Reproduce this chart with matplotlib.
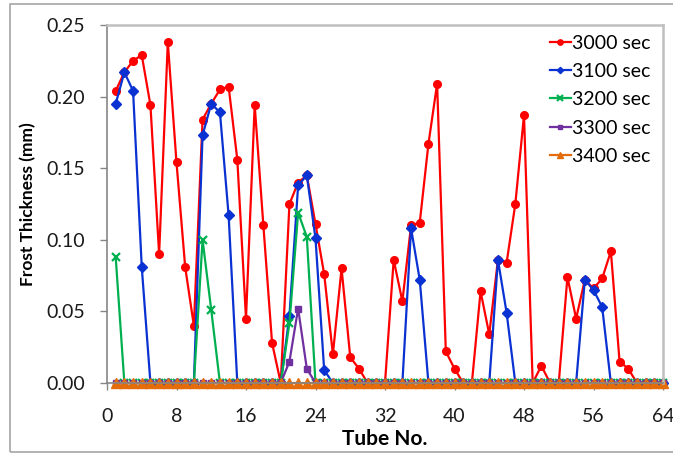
import matplotlib
matplotlib.use("Agg")
import matplotlib.pyplot as plt
from matplotlib.patches import Rectangle


# Tube numbers and frost thickness (mm)
tubes = list(range(1, 65))

t3000 = [0.204, 0.217, 0.225, 0.229, 0.194, 0.090, 0.238, 0.154,
         0.081, 0.040, 0.184, 0.195, 0.205, 0.207, 0.156, 0.045,
         0.194, 0.110, 0.028, 0.000, 0.125, 0.140, 0.145, 0.111,
         0.076, 0.020, 0.080, 0.018, 0.010, 0.000, 0.000, 0.000,
         0.086, 0.057, 0.110, 0.112, 0.167, 0.209, 0.022, 0.010,
         0.000, 0.000, 0.064, 0.034, 0.086, 0.084, 0.125, 0.187,
         0.000, 0.012, 0.000, 0.000, 0.074, 0.045, 0.072, 0.066,
         0.073, 0.092, 0.015, 0.010, 0.000, 0.000, 0.000, 0.000]

t3100 = [0.195, 0.217, 0.204, 0.081, 0.000, 0.000, 0.000, 0.000,
         0.000, 0.000, 0.173, 0.195, 0.189, 0.117, 0.000, 0.000,
         0.000, 0.000, 0.000, 0.000, 0.047, 0.138, 0.145, 0.101,
         0.009, 0.000, 0.000, 0.000, 0.000, 0.000, 0.000, 0.000,
         0.000, 0.000, 0.108, 0.072, 0.000, 0.000, 0.000, 0.000,
         0.000, 0.000, 0.000, 0.000, 0.086, 0.049, 0.000, 0.000,
         0.000, 0.000, 0.000, 0.000, 0.000, 0.000, 0.072, 0.065,
         0.053, 0.000, 0.000, 0.000, 0.000, 0.000, 0.000, 0.000]

t3200 = [0.088, 0.000, 0.000, 0.000, 0.000, 0.000, 0.000, 0.000,
         0.000, 0.000, 0.100, 0.051, 0.000, 0.000, 0.000, 0.000,
         0.000, 0.000, 0.000, 0.000, 0.042, 0.119, 0.102, 0.000,
         0.000, 0.000, 0.000, 0.000, 0.000, 0.000, 0.000, 0.000,
         0.000, 0.000, 0.000, 0.000, 0.000, 0.000, 0.000, 0.000,
         0.000, 0.000, 0.000, 0.000, 0.000, 0.000, 0.000, 0.000,
         0.000, 0.000, 0.000, 0.000, 0.000, 0.000, 0.000, 0.000,
         0.000, 0.000, 0.000, 0.000, 0.000, 0.000, 0.000, 0.000]

t3300 = [0.000, 0.000, 0.000, 0.000, 0.000, 0.000, 0.000, 0.000,
         0.000, 0.000, 0.000, 0.000, 0.000, 0.000, 0.000, 0.000,
         0.000, 0.000, 0.000, 0.000, 0.015, 0.052, 0.010, 0.000,
         0.000, 0.000, 0.000, 0.000, 0.000, 0.000, 0.000, 0.000,
         0.000, 0.000, 0.000, 0.000, 0.000, 0.000, 0.000, 0.000,
         0.000, 0.000, 0.000, 0.000, 0.000, 0.000, 0.000, 0.000,
         0.000, 0.000, 0.000, 0.000, 0.000, 0.000, 0.000, 0.000,
         0.000, 0.000, 0.000, 0.000, 0.000, 0.000, 0.000, 0.000]

t3400 = [0.000, 0.000, 0.000, 0.000, 0.000, 0.000, 0.000, 0.000,
         0.000, 0.000, 0.000, 0.000, 0.000, 0.000, 0.000, 0.000,
         0.000, 0.000, 0.000, 0.000, 0.000, 0.000, 0.000, 0.000,
         0.000, 0.000, 0.000, 0.000, 0.000, 0.000, 0.000, 0.000,
         0.000, 0.000, 0.000, 0.000, 0.000, 0.000, 0.000, 0.000,
         0.000, 0.000, 0.000, 0.000, 0.000, 0.000, 0.000, 0.000,
         0.000, 0.000, 0.000, 0.000, 0.000, 0.000, 0.000, 0.000,
         0.000, 0.000, 0.000, 0.000, 0.000, 0.000, 0.000, 0.000]

labels = ["3000 sec", "3100 sec", "3200 sec", "3300 sec", "3400 sec"]
x_ticks = [0, 8, 16, 24, 32, 40, 48, 56, 64]
y_ticks = [0.00, 0.05, 0.10, 0.15, 0.20, 0.25]


plt.rcParams['font.family'] = ['Lato', 'DejaVu Sans']

fig = plt.figure(figsize=(6.73, 4.57), dpi=100)
ax = fig.add_axes([107/673, 1 - 383/457, 556/673, 358/457])

styles = [
    dict(color="#ff0000", marker="o", ms=5.5),
    dict(color="#0a32d2", marker="D", ms=4.6),
    dict(color="#00b050", marker="x", ms=5.5, mew=1.6),
    dict(color="#7030a0", marker="s", ms=5.0),
    dict(color="#e46c0a", marker="^", ms=7.0),
]
series = [t3000, t3100, t3200, t3300, t3400]

for vals, lab, st in zip(series, labels, styles):
    ax.plot(tubes, vals, lw=1.6, label=lab, clip_on=False, **st)

ax.set_xlim(0, 64)
ax.set_ylim(0, 0.25)
ax.set_xticks(x_ticks)
ax.set_yticks(y_ticks)
ax.set_yticklabels(["%.2f" % v for v in y_ticks])

ax.tick_params(axis='both', direction='out', length=5, width=1,
               color="#868686", labelsize=14, labelcolor="#1a1a1a")
ax.tick_params(axis='y', pad=11)
ax.tick_params(axis='x', pad=13)

for side in ["left", "bottom"]:
    ax.spines[side].set_color("#868686")
    ax.spines[side].set_linewidth(1.2)
for side in ["top", "right"]:
    ax.spines[side].set_color("#bfbfbf")
    ax.spines[side].set_linewidth(1.8)

ax.set_xlabel("Tube No.", fontsize=15, fontweight="bold", labelpad=3)
ax.set_ylabel("Frost Thickness (mm)", fontsize=12.5, fontweight="bold", labelpad=7)

ax.legend(loc="upper right", bbox_to_anchor=(0.995, 1.0), frameon=False,
          fontsize=14, handlelength=1.1, handletextpad=0.05,
          labelspacing=0.58, borderaxespad=0.1, markerscale=0.7)

# outer chart border
fig.patches.append(Rectangle((10/673, 1 - 452/457), 1.0, 448/457,
                             transform=fig.transFigure, fill=False,
                             edgecolor="#a6a6a6", lw=1.2))

fig.savefig("out.png", dpi=100)
